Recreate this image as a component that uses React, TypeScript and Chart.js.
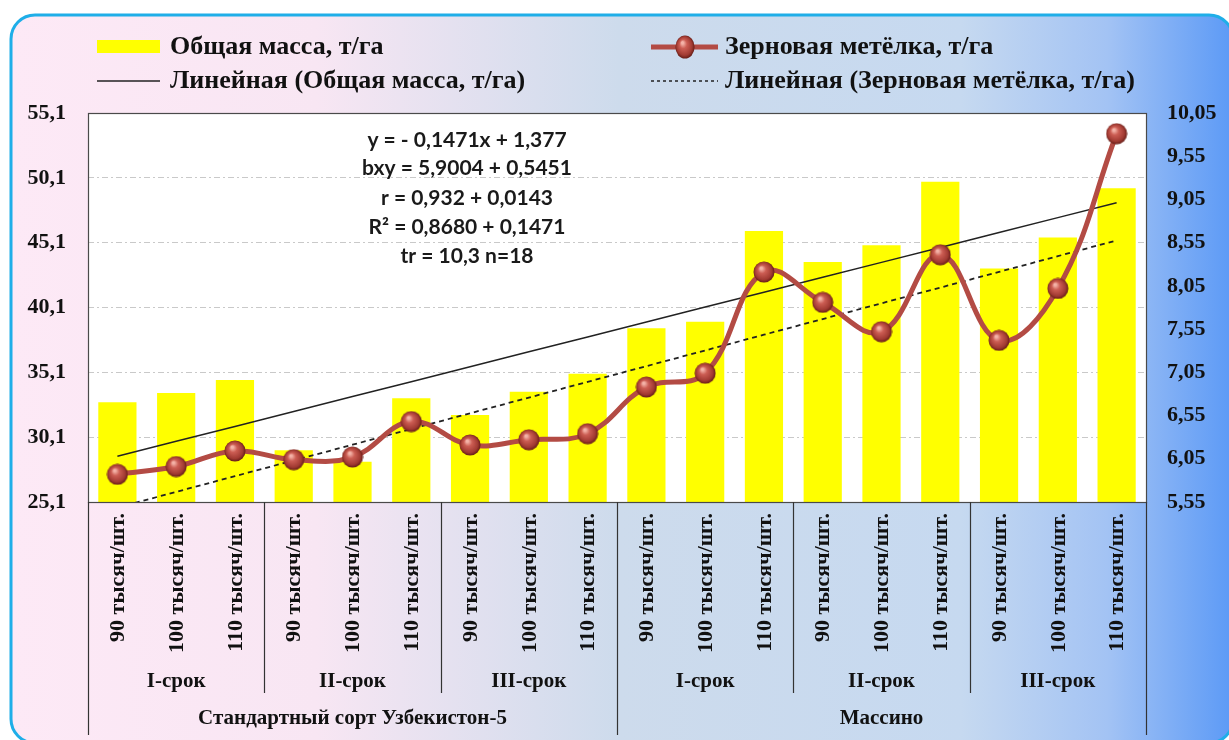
import React, { useEffect, useRef } from "react";
import { Chart, registerables } from "chart.js";

Chart.register(...registerables);

// Sowing density per plot
const densityLabels = ["90 тысяч/шт.", "100 тысяч/шт.", "110 тысяч/шт."];
// Sowing terms
const termLabels = ["I-срок", "II-срок", "III-срок"];
// Varieties
const varietyLabels = ["Стандартный сорт Узбекистон-5", "Массино"];

// Total biomass, t/ha (left axis)
const totalMass = [
  32.8, 33.5, 34.5, 29.1, 28.2, 33.1, 31.8, 33.6, 35.0,
  38.5, 39.0, 46.0, 43.6, 44.9, 49.8, 43.1, 45.5, 49.3,
];
// Grain panicle, t/ha (right axis)
const grainPanicle = [
  5.87, 5.96, 6.14, 6.04, 6.07, 6.48, 6.21, 6.27, 6.34,
  6.88, 7.04, 8.21, 7.86, 7.52, 8.41, 7.42, 8.02, 9.81,
];

const leftTicks = [25.1, 30.1, 35.1, 40.1, 45.1, 50.1, 55.1];
const rightTicks = [5.55, 6.05, 6.55, 7.05, 7.55, 8.05, 8.55, 9.05, 9.55, 10.05];

const seriesNames = [
  "Общая масса, т/га",
  "Зерновая метёлка, т/га",
  "Линейная (Общая масса, т/га)",
  "Линейная (Зерновая метёлка, т/га)",
];

const statsLines = [
  "y = - 0,1471x + 1,377",
  "bxy = 5,9004 + 0,5451",
  "r = 0,932 + 0,0143",
  "R² = 0,8680 + 0,1471",
  "tr = 10,3 n=18",
];

// Category labels: variety × term × density
const categories: string[] = [];
varietyLabels.forEach(() =>
  termLabels.forEach(() => densityLabels.forEach((d) => categories.push(d)))
);

// Least-squares linear trend evaluated at each category position
function linearTrend(values: number[]): number[] {
  const n = values.length;
  const xs = values.map((_, i) => i + 1);
  const mx = xs.reduce((a, b) => a + b, 0) / n;
  const my = values.reduce((a, b) => a + b, 0) / n;
  let sxy = 0;
  let sxx = 0;
  xs.forEach((x, i) => {
    sxy += (x - mx) * (values[i] - my);
    sxx += (x - mx) * (x - mx);
  });
  const slope = sxy / sxx;
  return xs.map((x) => my + slope * (x - mx));
}

const fmt = (v: number, digits: number) => v.toFixed(digits).replace(".", ",");

const SERIF = '"Liberation Serif", "Times New Roman", serif';
const SANS = 'Lato, "Open Sans", sans-serif';
const LINE_RED = "#B34B44";

function makeBall(w: number, h: number = w): HTMLCanvasElement {
  const c = document.createElement("canvas");
  c.width = w;
  c.height = h;
  const g = c.getContext("2d")!;
  g.save();
  g.scale(w / h, 1);
  const r = h / 2;
  const grad = g.createRadialGradient(r * 0.75, r * 0.65, r * 0.1, r, r, r);
  grad.addColorStop(0, "#F4B3A8");
  grad.addColorStop(0.3, "#CC5D53");
  grad.addColorStop(0.75, "#A13A32");
  grad.addColorStop(1, "#5C1812");
  g.fillStyle = grad;
  g.beginPath();
  g.arc(r, r, r - 0.5, 0, Math.PI * 2);
  g.fill();
  g.restore();
  return c;
}

const backgroundPlugin = {
  id: "panelBackground",
  beforeDraw(chart: any) {
    const { ctx, width, height, chartArea } = chart;
    ctx.save();
    ctx.fillStyle = "#FFFFFF";
    ctx.fillRect(0, 0, width, height);

    const px = 11, py = 15, pw = 1222, ph = 728, rad = 24;
    const grad = ctx.createLinearGradient(px, 0, 1229, 0);
    grad.addColorStop(0, "#FDE9F6");
    grad.addColorStop(0.25, "#F8E6F3");
    grad.addColorStop(0.5, "#CDDBEC");
    grad.addColorStop(0.78, "#C6D9F0");
    grad.addColorStop(0.9, "#A3C3F4");
    grad.addColorStop(1, "#5E9BF6");
    ctx.beginPath();
    ctx.roundRect(px, py, pw, ph, rad);
    ctx.fillStyle = grad;
    ctx.fill();
    ctx.lineWidth = 3;
    ctx.strokeStyle = "#1FAEE8";
    ctx.stroke();

    ctx.fillStyle = "#FFFFFF";
    ctx.fillRect(chartArea.left, chartArea.top, chartArea.right - chartArea.left, chartArea.bottom - chartArea.top);
    ctx.restore();
  },
};

const decorPlugin = {
  id: "decor",
  afterDraw(chart: any) {
    const { ctx, chartArea } = chart;
    const { left, right, top, bottom } = chartArea;
    const xScale = chart.scales.x;
    const n = categories.length;
    const step = (right - left) / n;
    ctx.save();

    // plot frame
    ctx.strokeStyle = "#4A4A4A";
    ctx.lineWidth = 1.2;
    ctx.strokeRect(left + 0.5, top + 0.5, right - left, bottom - top);

    // rotated density labels
    ctx.fillStyle = "#111111";
    ctx.font = `bold 22px ${SERIF}`;
    categories.forEach((label, i) => {
      const cx = xScale.getPixelForValue(i);
      ctx.save();
      ctx.translate(cx, bottom + 11);
      ctx.rotate(-Math.PI / 2);
      ctx.textAlign = "right";
      ctx.textBaseline = "middle";
      ctx.fillText(label, 0, 1);
      ctx.restore();
    });

    // group separators
    ctx.strokeStyle = "#333333";
    ctx.lineWidth = 1.2;
    for (let i = 0; i <= n; i += 3) {
      const x = Math.round(left + i * step) + 0.5;
      const end = i % 9 === 0 ? 735 : 693;
      ctx.beginPath();
      ctx.moveTo(x, bottom);
      ctx.lineTo(x, end);
      ctx.stroke();
    }

    // term and variety labels
    ctx.font = `bold 21px ${SERIF}`;
    ctx.textAlign = "center";
    ctx.textBaseline = "middle";
    varietyLabels.forEach((v, vi) => {
      termLabels.forEach((t, ti) => {
        const g = vi * 3 + ti;
        const cx = left + (g * 3 + 1.5) * step;
        ctx.fillText(t, cx, 682);
      });
      const cx = left + (vi * 9 + 4.5) * step;
      ctx.fillText(v, cx, 719);
    });

    // legend
    ctx.textAlign = "left";
    ctx.font = `bold 26px ${SERIF}`;
    const row1 = 47, row2 = 81;
    ctx.fillStyle = "#FFFF00";
    ctx.fillRect(97, 40, 63, 13);
    ctx.fillStyle = "#111111";
    ctx.fillText(seriesNames[0], 170, row1);

    ctx.strokeStyle = LINE_RED;
    ctx.lineWidth = 5;
    ctx.beginPath();
    ctx.moveTo(651, row1);
    ctx.lineTo(718, row1);
    ctx.stroke();
    const ball = makeBall(20, 24);
    ctx.drawImage(ball, 685 - 10, row1 - 12);
    ctx.fillText(seriesNames[1], 725, row1);

    ctx.strokeStyle = "#222222";
    ctx.lineWidth = 1.5;
    ctx.beginPath();
    ctx.moveTo(97, row2);
    ctx.lineTo(160, row2);
    ctx.stroke();
    ctx.fillText(seriesNames[2], 170, row2);

    ctx.setLineDash([3, 3]);
    ctx.beginPath();
    ctx.moveTo(651, row2);
    ctx.lineTo(718, row2);
    ctx.stroke();
    ctx.setLineDash([]);
    ctx.fillText(seriesNames[3], 725, row2);

    // regression statistics
    ctx.textAlign = "center";
    ctx.font = `bold 21px ${SANS}`;
    ctx.fillStyle = "#1A1A1A";
    const ys = [140, 168, 198, 227, 256];
    statsLines.forEach((s, i) => ctx.fillText(s, 467, ys[i]));

    ctx.restore();
  },
};

export default function App() {
  const canvasRef = useRef<HTMLCanvasElement | null>(null);

  useEffect(() => {
    const canvas = canvasRef.current;
    if (!canvas) return;
    const ball = makeBall(22);
    const massTrend = linearTrend(totalMass);
    const grainTrend = linearTrend(grainPanicle);

    const chart = new Chart(canvas, {
      type: "bar",
      data: {
        labels: categories,
        datasets: [
          {
            type: "line",
            label: seriesNames[1],
            data: grainPanicle,
            yAxisID: "y1",
            borderColor: LINE_RED,
            borderWidth: 5,
            tension: 0.4,
            pointStyle: ball as any,
            pointRadius: 11,
            order: 1,
          } as any,
          {
            type: "line",
            label: seriesNames[3],
            data: grainTrend,
            yAxisID: "y1",
            borderColor: "#222222",
            borderWidth: 1.8,
            borderDash: [5, 4],
            pointRadius: 0,
            tension: 0,
            order: 2,
          },
          {
            type: "line",
            label: seriesNames[2],
            data: massTrend,
            yAxisID: "y",
            borderColor: "#222222",
            borderWidth: 1.5,
            pointRadius: 0,
            tension: 0,
            order: 2,
          },
          {
            type: "bar",
            label: seriesNames[0],
            data: totalMass,
            yAxisID: "y",
            backgroundColor: "#FFFF00",
            borderWidth: 0,
            categoryPercentage: 1,
            barPercentage: 0.65,
            order: 3,
          },
        ],
      },
      options: {
        responsive: false,
        animation: false,
        layout: { padding: { top: 113, bottom: 238, left: 0, right: 0 } },
        plugins: {
          legend: { display: false },
          tooltip: { enabled: false },
        },
        scales: {
          x: { display: false, offset: true, grid: { display: false } },
          y: {
            position: "left",
            min: leftTicks[0],
            max: leftTicks[leftTicks.length - 1],
            afterBuildTicks: (s: any) => {
              s.ticks = leftTicks.map((v) => ({ value: v }));
            },
            afterFit: (s: any) => {
              s.width = 88;
            },
            ticks: {
              padding: 22,
              color: "#111111",
              font: { family: SERIF, size: 22, weight: "bold" },
              callback: (v: any) => fmt(Number(v), 1),
            },
            grid: { drawTicks: false, color: "#C9C9C9", lineWidth: 1 },
            border: { display: false, dash: [6, 3, 2, 3] },
          },
          y1: {
            position: "right",
            min: rightTicks[0],
            max: rightTicks[rightTicks.length - 1],
            afterBuildTicks: (s: any) => {
              s.ticks = rightTicks.map((v) => ({ value: v }));
            },
            afterFit: (s: any) => {
              s.width = 83;
            },
            ticks: {
              padding: 21,
              color: "#111111",
              font: { family: SERIF, size: 22, weight: "bold" },
              callback: (v: any) => fmt(Number(v), 2),
            },
            grid: { display: false, drawTicks: false },
            border: { display: false },
          },
        },
      },
      plugins: [backgroundPlugin, decorPlugin],
    });

    return () => chart.destroy();
  }, []);

  return (
    <div style={{ position: "absolute", left: 0, top: 0, width: 1229, height: 740 }}>
      <canvas ref={canvasRef} width={1229} height={740} style={{ display: "block" }} />
    </div>
  );
}
